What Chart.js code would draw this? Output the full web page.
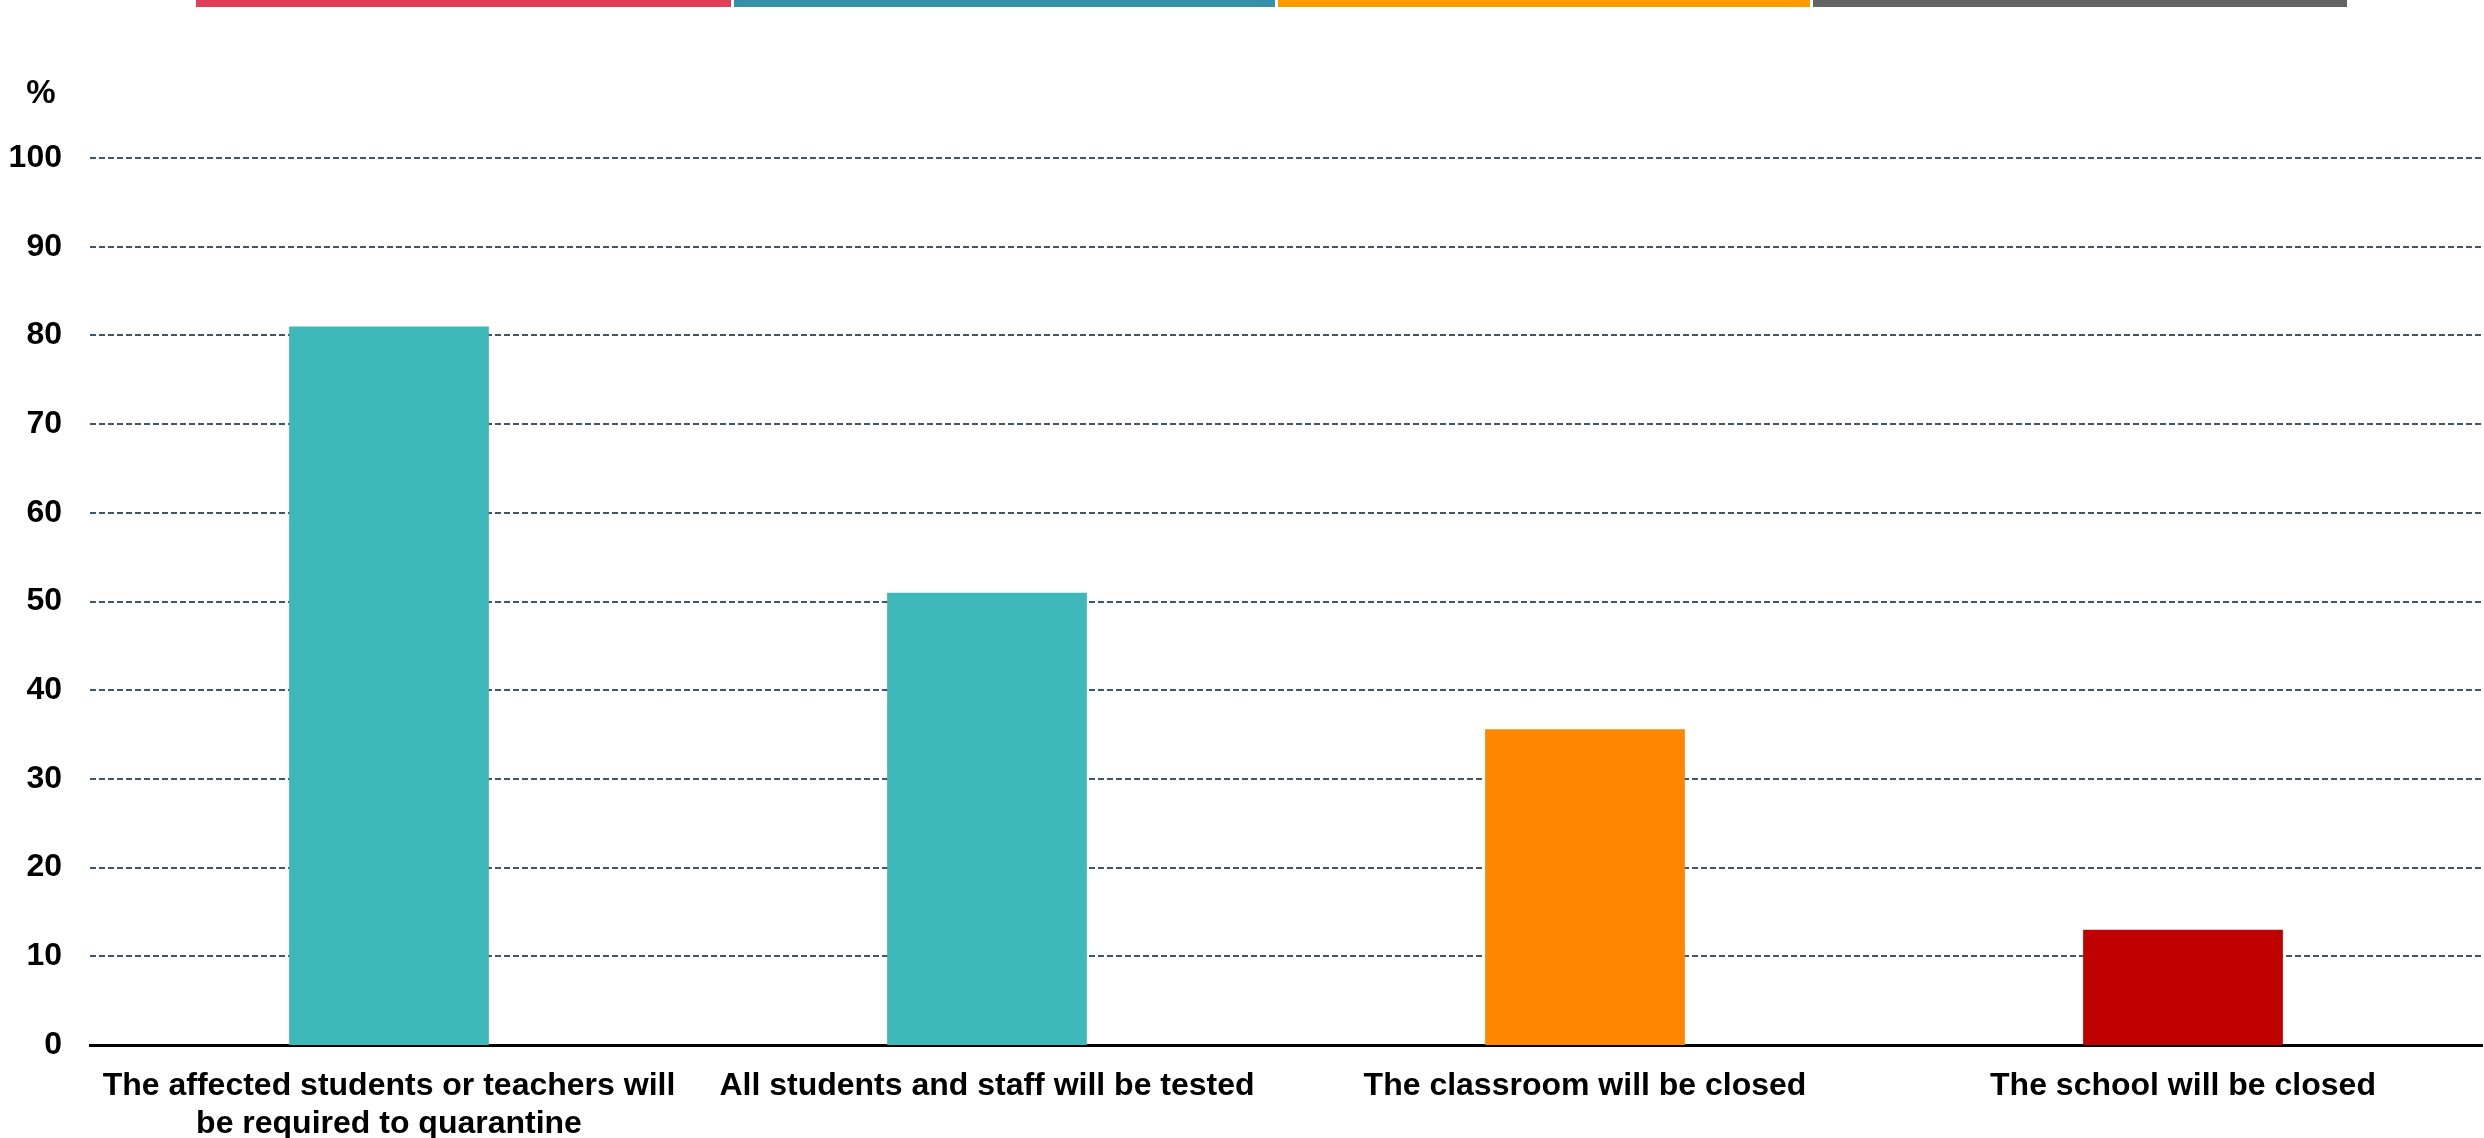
<!DOCTYPE html>
<html>
<head>
<meta charset="utf-8">
<script src="https://cdn.jsdelivr.net/npm/chart.js@4.4.1/dist/chart.umd.min.js"></script>
<style>
  html, body { margin: 0; padding: 0; background: #ffffff; }
  #wrap { width: 2484px; height: 1138px; position: relative; }
</style>
</head>
<body>
<div id="wrap"><canvas id="c" width="2484" height="1138"></canvas></div>
<script>
const categories = [
  ["The affected students or teachers will", "be required to quarantine"],
  "All students and staff will be tested",
  "The classroom will be closed",
  "The school will be closed"
];
const values = [81, 51, 35.6, 13];
const barColors = ["#3EB8B8", "#3EB8B8", "#FF8700", "#C00000"];
const yMin = 0, yMax = 100, yStep = 10;
const yUnitLabel = "%";
const stripeColors = ["#E04057", "#3392AA", "#FF9900", "#646464"];

const FONT = "'Liberation Sans', Arial, sans-serif";

const decorPlugin = {
  id: 'decor',
  afterDraw(chart) {
    const ctx = chart.ctx;
    ctx.save();
    const segs = [[196, 731], [734, 1275], [1278, 1810], [1813, 2347]];
    segs.forEach((s, i) => {
      ctx.fillStyle = stripeColors[i];
      ctx.fillRect(s[0], 0, s[1] - s[0], 7);
    });
    ctx.fillStyle = '#000';
    ctx.font = "bold 33px " + FONT;
    ctx.textAlign = 'center';
    ctx.textBaseline = 'middle';
    ctx.fillText(yUnitLabel, 41, 94);
    ctx.restore();
  }
};

new Chart(document.getElementById('c'), {
  type: 'bar',
  data: {
    labels: categories,
    datasets: [{
      data: values,
      backgroundColor: barColors,
      borderWidth: 0,
      categoryPercentage: 1.0,
      barPercentage: 0.334
    }]
  },
  options: {
    responsive: false,
    animation: false,
    devicePixelRatio: 1,
    layout: { padding: { top: 158, right: 2, bottom: 0, left: 0 } },
    plugins: {
      legend: { display: false },
      tooltip: { enabled: false },
      title: { display: false }
    },
    scales: {
      x: {
        grid: { display: false, drawTicks: false },
        border: { display: true, color: '#000', width: 3 },
        ticks: {
          color: '#000',
          font: { family: FONT, size: 32, weight: 'bold', lineHeight: 1.2 },
          padding: 22,
          maxRotation: 0,
          autoSkip: false
        },
        afterFit(scale) { scale.height = 93; }
      },
      y: {
        min: yMin,
        max: yMax,
        grid: {
          color: '#44546A',
          lineWidth: (c) => (c.tick && c.tick.value === 0 ? 0 : 2),
          drawTicks: false
        },
        border: { display: false, dash: [6, 3] },
        ticks: {
          stepSize: yStep,
          color: '#000',
          font: { family: FONT, size: 32, weight: 'bold' },
          padding: 28
        },
        afterFit(scale) { scale.width = 90; }
      }
    }
  },
  plugins: [decorPlugin]
});
</script>
</body>
</html>
